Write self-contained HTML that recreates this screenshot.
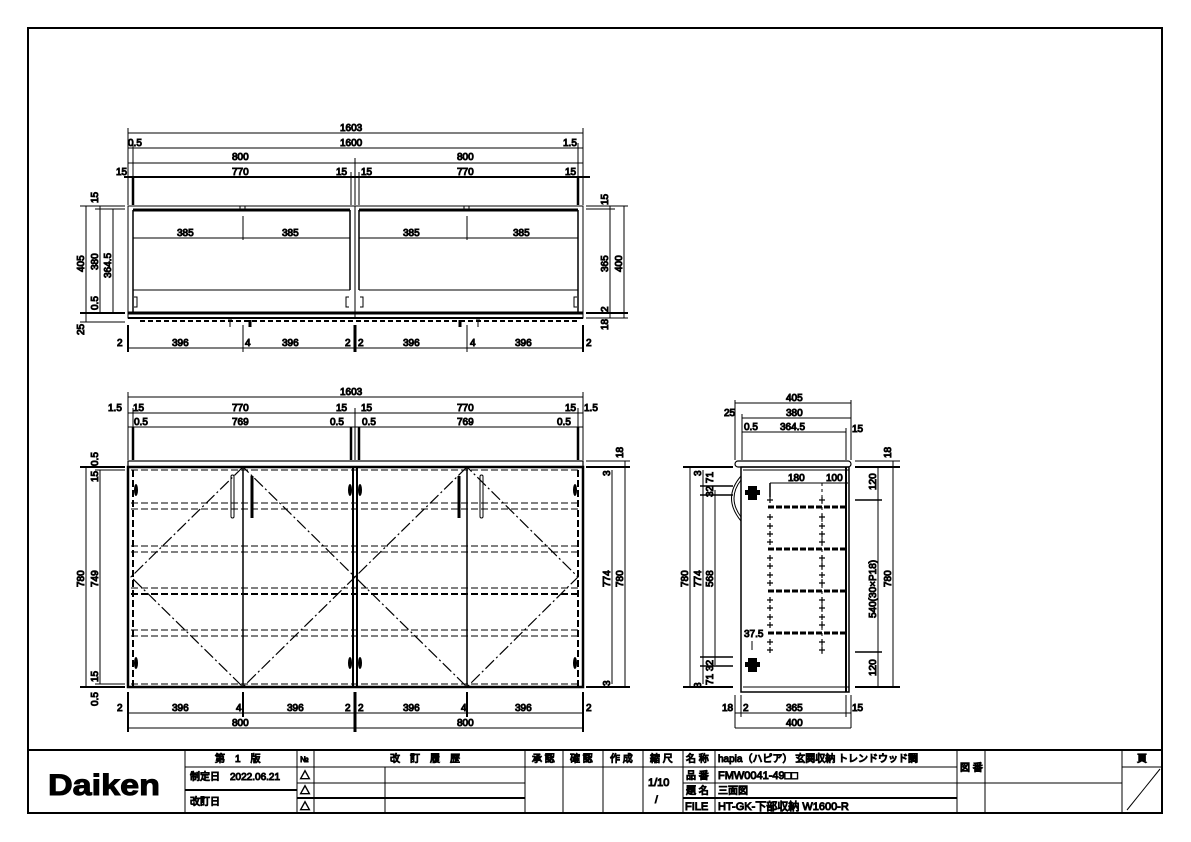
<!DOCTYPE html>
<html><head><meta charset="utf-8"><style>
html,body{margin:0;padding:0;background:#fff}
svg{display:block}
text{font-family:"Liberation Sans","Noto Sans CJK JP",sans-serif;font-size:10px;fill:#000}
.t{font-size:10px}
</style></head><body>
<svg width="1191" height="842" viewBox="0 0 1191 842" xmlns="http://www.w3.org/2000/svg" stroke="#000" fill="none">
<!-- border -->
<rect x="28" y="28" width="1134" height="785" stroke-width="2"/>

<!-- ============ TOP VIEW ============ -->
<g stroke-width="1">
<line x1="128" y1="133" x2="583" y2="133"/>
<line x1="128" y1="148" x2="583" y2="148"/>
<line x1="128" y1="163" x2="583" y2="163"/>
<line x1="124" y1="177" x2="590" y2="177" stroke-width="2"/>
<line x1="128" y1="128" x2="128" y2="205"/>
<line x1="583" y1="128" x2="583" y2="205"/>
<line x1="133" y1="143" x2="133" y2="205"/>
<line x1="578" y1="143" x2="578" y2="205"/>
<line x1="355" y1="158" x2="355" y2="205"/>
<line x1="351" y1="172" x2="351" y2="205"/>
<line x1="359" y1="172" x2="359" y2="205"/>
</g>
<g stroke-width="2.5">
<line x1="133" y1="177" x2="133" y2="205"/><line x1="578" y1="177" x2="578" y2="205"/>
</g>
<text x="340" y="131">1603</text>
<text x="128" y="146">0.5</text><text x="340" y="146">1600</text><text x="563" y="146">1.5</text>
<text x="232" y="160">800</text><text x="457" y="160">800</text>
<text x="116" y="175">15</text><text x="232" y="175">770</text><text x="336" y="175">15</text>
<text x="361" y="175">15</text><text x="457" y="175">770</text><text x="565" y="175">15</text>

<rect x="128" y="206" width="455" height="112" stroke-width="1"/>
<line x1="355" y1="206" x2="355" y2="318" stroke-width="1"/>
<g stroke-width="3">
<line x1="133" y1="210" x2="350" y2="210"/><line x1="359" y1="210" x2="578" y2="210"/>
<line x1="128" y1="313" x2="583" y2="313"/>
</g>
<g stroke-width="1.5">
<line x1="133" y1="210" x2="133" y2="313"/><line x1="350" y1="210" x2="350" y2="290"/>
<line x1="359" y1="210" x2="359" y2="290"/><line x1="578" y1="210" x2="578" y2="313"/>
</g>
<g stroke-width="1">
<line x1="133" y1="238" x2="350" y2="238"/><line x1="359" y1="238" x2="578" y2="238"/>
<line x1="243" y1="216" x2="243" y2="240"/><line x1="467" y1="216" x2="467" y2="240"/>
<line x1="133" y1="290" x2="350" y2="290"/><line x1="359" y1="290" x2="578" y2="290"/>
<line x1="128" y1="318" x2="583" y2="318" stroke-width="2"/>
<line x1="140" y1="321" x2="580" y2="321" stroke-dasharray="5,3" stroke-width="2"/>
<rect x="240" y="206" width="5" height="3"/><rect x="464" y="206" width="5" height="3"/>
<path d="M134 297 h3 v10 h-3"/><path d="M349 297 h-3 v10 h3"/><path d="M360 297 h3 v10 h-3"/><path d="M577 297 h-3 v10 h3"/>
<path d="M230 320 v7 M228 320 h4"/><path d="M250 320 v7" stroke-width="3"/>
<path d="M460 320 v7" stroke-width="3"/><path d="M478 320 v7 M476 320 h4"/>
</g>
<text x="177" y="236">385</text><text x="282" y="236">385</text><text x="403" y="236">385</text><text x="513" y="236">385</text>
<!-- left dims top view -->
<g stroke-width="1">
<line x1="80" y1="206" x2="125" y2="206"/><line x1="95" y1="209" x2="125" y2="209"/>
<line x1="80" y1="313" x2="125" y2="313" stroke-width="2"/><line x1="80" y1="322" x2="125" y2="322"/>
<line x1="86" y1="206" x2="86" y2="322"/><line x1="100" y1="206" x2="100" y2="313"/><line x1="113" y1="209" x2="113" y2="313"/>
<line x1="586" y1="206" x2="628" y2="206"/><line x1="586" y1="209" x2="615" y2="209"/>
<line x1="586" y1="313" x2="628" y2="313" stroke-width="2"/><line x1="586" y1="318" x2="628" y2="318"/>
<line x1="610" y1="206" x2="610" y2="318"/><line x1="624" y1="206" x2="624" y2="318"/>
</g>
<text transform="translate(84,272) rotate(-90)">405</text>
<text transform="translate(98,270) rotate(-90)">380</text>
<text transform="translate(98,203) rotate(-90)">15</text>
<text transform="translate(111,278) rotate(-90)">364.5</text>
<text transform="translate(98,310) rotate(-90)">0.5</text>
<text transform="translate(84,335) rotate(-90)">25</text>
<text transform="translate(608,205) rotate(-90)">15</text>
<text transform="translate(608,272) rotate(-90)">365</text>
<text transform="translate(622,272) rotate(-90)">400</text>
<text transform="translate(608,312) rotate(-90)">2</text>
<text transform="translate(608,330) rotate(-90)">18</text>
<!-- bottom dims top view -->
<g stroke-width="1">
<line x1="128" y1="348" x2="583" y2="348"/>
<line x1="128" y1="325" x2="128" y2="352" stroke-width="2"/><line x1="243" y1="325" x2="243" y2="352"/>
<line x1="355" y1="325" x2="355" y2="352" stroke-width="3"/><line x1="467" y1="325" x2="467" y2="352"/>
<line x1="583" y1="325" x2="583" y2="352" stroke-width="2"/>
</g>
<text x="117" y="346">2</text><text x="172" y="346">396</text><text x="245" y="346">4</text><text x="282" y="346">396</text>
<text x="345" y="346">2</text><text x="358" y="346">2</text><text x="403" y="346">396</text><text x="470" y="346">4</text><text x="515" y="346">396</text><text x="586" y="346">2</text>

<!-- ============ FRONT VIEW ============ -->
<g stroke-width="1">
<line x1="128" y1="397" x2="583" y2="397"/>
<line x1="128" y1="413" x2="583" y2="413"/>
<line x1="128" y1="427" x2="583" y2="427"/>
<line x1="128" y1="392" x2="128" y2="460"/><line x1="583" y1="392" x2="583" y2="460"/>
<line x1="133" y1="408" x2="133" y2="460"/><line x1="578" y1="408" x2="578" y2="460"/>
<line x1="355" y1="408" x2="355" y2="460"/>
</g>
<g stroke-width="2.5">
<line x1="133" y1="427" x2="133" y2="460"/><line x1="578" y1="427" x2="578" y2="460"/>
<line x1="351" y1="427" x2="351" y2="460"/><line x1="359" y1="427" x2="359" y2="460"/>
</g>
<text x="340" y="395">1603</text>
<text x="108" y="411">1.5</text><text x="133" y="411">15</text><text x="232" y="411">770</text><text x="336" y="411">15</text>
<text x="361" y="411">15</text><text x="457" y="411">770</text><text x="565" y="411">15</text><text x="584" y="411">1.5</text>
<text x="134" y="425">0.5</text><text x="232" y="425">769</text><text x="330" y="425">0.5</text>
<text x="362" y="425">0.5</text><text x="457" y="425">769</text><text x="557" y="425">0.5</text>

<rect x="128" y="461" width="455" height="6" stroke-width="1.2"/>
<rect x="128" y="467" width="455" height="220" stroke-width="2.5"/>
<line x1="353" y1="467" x2="353" y2="687" stroke-width="2"/><line x1="357" y1="467" x2="357" y2="687" stroke-width="2"/>
<line x1="243" y1="467" x2="243" y2="687" stroke-width="1.5"/><line x1="467" y1="467" x2="467" y2="687" stroke-width="1.5"/>
<g stroke-width="1" stroke-dasharray="7,3">
<line x1="131" y1="470" x2="580" y2="470"/>
<line x1="131" y1="503" x2="580" y2="503"/><line x1="131" y1="509" x2="580" y2="509"/>
<line x1="131" y1="546" x2="580" y2="546"/><line x1="131" y1="552" x2="580" y2="552"/>
<line x1="131" y1="588" x2="580" y2="588"/><line x1="131" y1="594" x2="580" y2="594" stroke-width="2"/>
<line x1="131" y1="630" x2="580" y2="630"/><line x1="131" y1="636" x2="580" y2="636"/>
<line x1="131" y1="684" x2="580" y2="684"/>
<line x1="133" y1="470" x2="133" y2="687" stroke-width="2"/><line x1="578" y1="470" x2="578" y2="687" stroke-width="2"/>
</g>
<g stroke-width="1.2" stroke-dasharray="12,3,2,3">
<path d="M243 467 L131 577 L243 687 L355 577 Z"/>
<path d="M467 467 L355 577 L467 687 L578 577 Z"/>
</g>
<g stroke-width="1">
<rect x="231" y="475" width="3" height="43" rx="1.5"/>
<rect x="480" y="475" width="3" height="43" rx="1.5"/>
</g>
<line x1="252" y1="476" x2="252" y2="518" stroke-width="3"/>
<line x1="459" y1="476" x2="459" y2="518" stroke-width="3"/>
<g fill="#000" stroke="none">
<ellipse cx="136" cy="490" rx="2" ry="6"/><ellipse cx="136" cy="663" rx="2" ry="6"/>
<ellipse cx="350" cy="490" rx="2" ry="6"/><ellipse cx="350" cy="663" rx="2" ry="6"/>
<ellipse cx="360" cy="490" rx="2" ry="6"/><ellipse cx="360" cy="663" rx="2" ry="6"/>
<ellipse cx="575" cy="490" rx="2" ry="6"/><ellipse cx="575" cy="663" rx="2" ry="6"/>
</g>
<!-- front side dims -->
<g stroke-width="1">
<line x1="80" y1="467" x2="125" y2="467" stroke-width="2"/><line x1="95" y1="470" x2="125" y2="470"/>
<line x1="95" y1="684" x2="125" y2="684"/><line x1="80" y1="687" x2="125" y2="687" stroke-width="2"/>
<line x1="86" y1="467" x2="86" y2="687"/><line x1="100" y1="470" x2="100" y2="684"/>
<line x1="586" y1="461" x2="630" y2="461"/><line x1="586" y1="467" x2="630" y2="467" stroke-width="2"/>
<line x1="586" y1="687" x2="630" y2="687" stroke-width="2"/>
<line x1="612" y1="470" x2="612" y2="684"/><line x1="625" y1="461" x2="625" y2="687"/>
</g>
<text transform="translate(84,587) rotate(-90)">780</text>
<text transform="translate(98,587) rotate(-90)">749</text>
<text transform="translate(98,466) rotate(-90)">0.5</text>
<text transform="translate(98,482) rotate(-90)">15</text>
<text transform="translate(98,682) rotate(-90)">15</text>
<text transform="translate(98,706) rotate(-90)">0.5</text>
<text transform="translate(610,587) rotate(-90)">774</text>
<text transform="translate(623,587) rotate(-90)">780</text>
<text transform="translate(610,476) rotate(-90)">3</text>
<text transform="translate(610,686) rotate(-90)">3</text>
<text transform="translate(623,458) rotate(-90)">18</text>
<g stroke-width="1">
<line x1="128" y1="713" x2="583" y2="713"/><line x1="128" y1="728" x2="583" y2="728"/>
<line x1="128" y1="692" x2="128" y2="732" stroke-width="2"/><line x1="243" y1="692" x2="243" y2="717" stroke-width="2"/>
<line x1="355" y1="692" x2="355" y2="732" stroke-width="3"/><line x1="467" y1="692" x2="467" y2="717" stroke-width="2"/>
<line x1="583" y1="692" x2="583" y2="732" stroke-width="2"/>
</g>
<text x="117" y="711">2</text><text x="172" y="711">396</text><text x="236" y="711">4</text><text x="287" y="711">396</text>
<text x="345" y="711">2</text><text x="358" y="711">2</text><text x="403" y="711">396</text><text x="461" y="711">4</text><text x="515" y="711">396</text><text x="586" y="711">2</text>
<text x="232" y="726">800</text><text x="457" y="726">800</text>

<!-- ============ SIDE VIEW ============ -->
<g stroke-width="1">
<line x1="735" y1="403" x2="851" y2="403"/><line x1="742" y1="418" x2="851" y2="418"/><line x1="742" y1="432" x2="846" y2="432"/>
<line x1="735" y1="400" x2="735" y2="460"/><line x1="851" y1="400" x2="851" y2="460"/>
<line x1="742" y1="414" x2="742" y2="460"/><line x1="846" y1="428" x2="846" y2="460"/>
</g>
<text x="786" y="401">405</text><text x="724" y="416">25</text><text x="786" y="416">380</text>
<text x="744" y="430">0.5</text><text x="780" y="430">364.5</text><text x="852" y="432">15</text>
<rect x="735" y="461" width="116" height="6" rx="3" stroke-width="1.2"/>
<rect x="741" y="467" width="108" height="225" stroke-width="1.5"/>
<line x1="846" y1="467" x2="846" y2="692" stroke-width="2"/>
<line x1="743" y1="687" x2="849" y2="687" stroke-width="1"/>
<line x1="743" y1="470" x2="849" y2="470" stroke-width="1"/>
<path d="M741 476 Q722 498 741 521" stroke-width="1"/><path d="M741 480 Q727 498 741 517" stroke-width="1"/>
<g stroke-width="1">
<line x1="770" y1="483" x2="848" y2="483"/><line x1="770" y1="483" x2="770" y2="497" stroke-width="1.5"/>
<line x1="822" y1="483" x2="822" y2="655" stroke-dasharray="3,3"/>
</g>
<text x="788" y="481">180</text><text x="826" y="481">100</text>
<g stroke-width="3" stroke-dasharray="6,2">
<line x1="768" y1="507" x2="846" y2="507"/><line x1="768" y1="549" x2="846" y2="549"/>
<line x1="768" y1="591" x2="846" y2="591"/><line x1="768" y1="633" x2="846" y2="633"/>
</g>
<g stroke-width="1.2" id="pins">
<path d="M767 500h6M770 497v6 M767 517h6M770 514v6 M767 526h6M770 523v6 M767 534h6M770 531v6 M767 542h6M770 539v6 M767 558h6M770 555v6 M767 566h6M770 563v6 M767 575h6M770 572v6 M767 583h6M770 580v6 M767 600h6M770 597v6 M767 608h6M770 605v6 M767 617h6M770 614v6 M767 625h6M770 622v6 M767 642h6M770 639v6 M767 650h6M770 647v6"/>
<path d="M819 500h6M822 497v6 M819 517h6M822 514v6 M819 526h6M822 523v6 M819 534h6M822 531v6 M819 542h6M822 539v6 M819 558h6M822 555v6 M819 566h6M822 563v6 M819 575h6M822 572v6 M819 583h6M822 580v6 M819 600h6M822 597v6 M819 608h6M822 605v6 M819 617h6M822 614v6 M819 625h6M822 622v6 M819 642h6M822 639v6 M819 650h6M822 647v6"/>
</g>
<g fill="#000" stroke="none">
<rect x="748" y="486" width="9" height="14"/><rect x="745" y="490" width="15" height="5"/>
<rect x="748" y="658" width="9" height="14"/><rect x="745" y="662" width="15" height="5"/>
</g>
<line x1="752" y1="641" x2="752" y2="650" stroke-width="1"/>
<text x="744" y="637">37.5</text>
<g stroke-width="1">
<line x1="683" y1="467" x2="733" y2="467" stroke-width="2"/><line x1="683" y1="687" x2="733" y2="687" stroke-width="2"/>
<line x1="690" y1="467" x2="690" y2="687"/><line x1="703" y1="470" x2="703" y2="684"/><line x1="715" y1="490" x2="715" y2="665"/>
<line x1="700" y1="486" x2="733" y2="486" stroke-width="1.5"/><line x1="700" y1="495" x2="733" y2="495" stroke-width="1.5"/>
<line x1="700" y1="657" x2="733" y2="657" stroke-width="1.5"/><line x1="700" y1="666" x2="733" y2="666" stroke-width="1.5"/>
<line x1="855" y1="467" x2="900" y2="467" stroke-width="2"/><line x1="855" y1="461" x2="900" y2="461"/>
<line x1="855" y1="687" x2="900" y2="687" stroke-width="2"/>
<line x1="855" y1="500" x2="882" y2="500" stroke-width="1.5"/><line x1="855" y1="652" x2="882" y2="652" stroke-width="1.5"/>
<line x1="878" y1="467" x2="878" y2="687"/><line x1="893" y1="461" x2="893" y2="687"/>
</g>
<text transform="translate(688,587) rotate(-90)">780</text>
<text transform="translate(701,587) rotate(-90)">774</text>
<text transform="translate(713,587) rotate(-90)">568</text>
<text transform="translate(701,476) rotate(-90)">3</text>
<text transform="translate(701,688) rotate(-90)">3</text>
<text transform="translate(713,497) rotate(-90)">32 71</text>
<text transform="translate(713,685) rotate(-90)">71 32</text>
<text transform="translate(876,490) rotate(-90)">120</text>
<text transform="translate(876,618) rotate(-90)">540(30×P18)</text>
<text transform="translate(876,676) rotate(-90)">120</text>
<text transform="translate(891,587) rotate(-90)">780</text>
<text transform="translate(891,458) rotate(-90)">18</text>
<g stroke-width="1">
<line x1="735" y1="695" x2="735" y2="728"/><line x1="741" y1="695" x2="741" y2="717"/>
<line x1="846" y1="695" x2="846" y2="717"/><line x1="851" y1="695" x2="851" y2="728"/>
<line x1="735" y1="713" x2="851" y2="713"/><line x1="735" y1="728" x2="851" y2="728"/>
</g>
<text x="722" y="711">18</text><text x="743" y="711">2</text><text x="786" y="711">365</text><text x="852" y="711">15</text>
<text x="786" y="726">400</text>

<!-- ============ TITLE BLOCK ============ -->
<line x1="28" y1="750" x2="1162" y2="750" stroke-width="2"/>
<g stroke-width="1">
<line x1="185" y1="750" x2="185" y2="813"/>
<line x1="297" y1="750" x2="297" y2="813"/><line x1="314" y1="750" x2="314" y2="813"/>
<line x1="385" y1="767" x2="385" y2="813"/>
<line x1="525" y1="750" x2="525" y2="813"/><line x1="563" y1="750" x2="563" y2="813"/>
<line x1="603" y1="750" x2="603" y2="813"/><line x1="643" y1="750" x2="643" y2="813"/>
<line x1="683" y1="750" x2="683" y2="813"/><line x1="715" y1="750" x2="715" y2="813"/>
<line x1="957" y1="750" x2="957" y2="813"/><line x1="985" y1="750" x2="985" y2="813"/>
<line x1="1122" y1="750" x2="1122" y2="813"/>
<line x1="185" y1="767" x2="683" y2="767"/>
<line x1="297" y1="783" x2="525" y2="783"/><line x1="297" y1="798" x2="525" y2="798" stroke-width="2"/>
<line x1="185" y1="790" x2="297" y2="790" stroke-width="2"/>
<line x1="683" y1="767" x2="957" y2="767"/><line x1="683" y1="783" x2="957" y2="783"/>
<line x1="683" y1="798" x2="957" y2="798" stroke-width="2"/>
<line x1="957" y1="783" x2="1122" y2="783"/>
<line x1="1122" y1="767" x2="1162" y2="767"/>
<line x1="1127" y1="810" x2="1160" y2="769"/>
</g>
<text x="48" y="795" style="font-size:30px;font-weight:bold" textLength="112" lengthAdjust="spacingAndGlyphs">Daiken</text>
<text x="215" y="762">第　1　版</text>
<text x="300" y="762" style="font-size:8px">№</text>
<text x="390" y="762">改　訂　履　歴</text>
<text x="532" y="762">承 認</text><text x="570" y="762">確 認</text><text x="610" y="762">作 成</text><text x="650" y="762">縮 尺</text>
<text x="686" y="762">名 称</text><text x="718" y="762">hapia（ハピア） 玄関収納 トレンドウッド調</text>
<text x="190" y="780">制定日　2022.06.21</text>
<text x="190" y="805">改訂日</text>
<text x="300" y="779">△</text><text x="300" y="794">△</text><text x="300" y="810">△</text>
<text x="648" y="786" style="font-size:11px">1/10</text><text x="655" y="803">/</text>
<text x="686" y="779">品 番</text><text x="718" y="779" style="font-size:11px">FMW0041-49□□</text>
<text x="686" y="794">題 名</text><text x="718" y="794">三面図</text>
<text x="685" y="810" style="font-size:11px">FILE</text><text x="718" y="810" style="font-size:11px">HT-GK-下部収納 W1600-R</text>
<text x="960" y="771">図 番</text>
<text x="1137" y="762">頁</text>
</svg>
</body></html>
